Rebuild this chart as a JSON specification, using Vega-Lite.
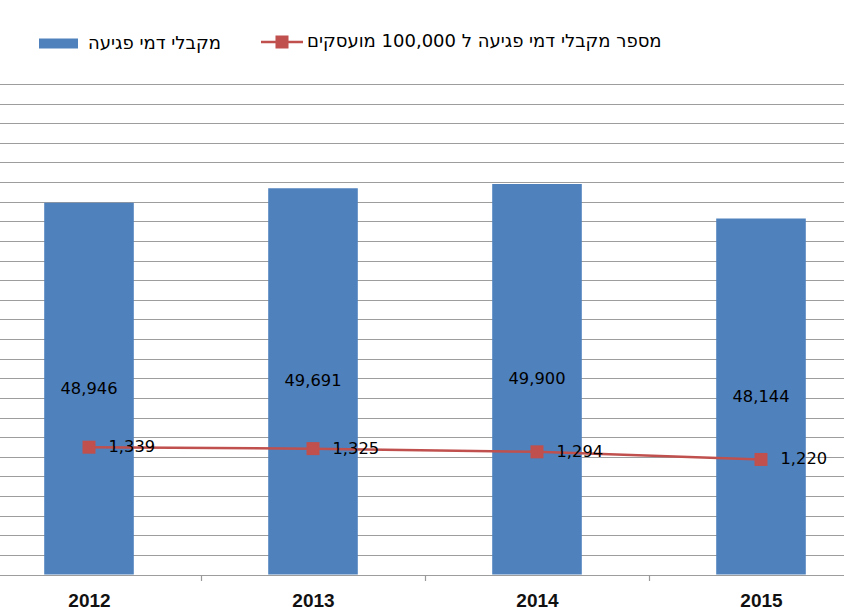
{
  "$schema": "https://vega.github.io/schema/vega-lite/v6.json",
  "width": 834,
  "height": 490.5,
  "autosize": {"type": "none"},
  "padding": {"left": 10, "top": 84, "right": 0, "bottom": 32.5},
  "background": "white",
  "config": {"view": {"stroke": null}},
  "data": {"values": [
    {"year": "2012", "recipients": 48946, "rate": 1339},
    {"year": "2013", "recipients": 49691, "rate": 1325},
    {"year": "2014", "recipients": 49900, "rate": 1294},
    {"year": "2015", "recipients": 48144, "rate": 1220}
  ]},
  "encoding": {
    "x": {
      "field": "year", "type": "nominal", "sort": null,
      "scale": {"range": [-33, 863], "paddingInner": 0, "paddingOuter": 0},
      "axis": {
        "title": null, "labelAngle": 0, "domain": false, "grid": false,
        "tickBand": "extent", "ticks": true, "tickSize": 6, "tickColor": "#9a9a9a", "tickWidth": 1.2,
        "labelFont": "Liberation Sans", "labelFontWeight": "bold", "labelFontSize": 19,
        "labelColor": "#111111", "labelPadding": 11
      }
    }
  },
  "layer": [
    {
      "mark": {"type": "bar", "color": "#4F81BD", "width": {"band": 0.4}},
      "encoding": {
        "y": {
          "field": "recipients", "type": "quantitative",
          "scale": {"domain": [30000, 55000], "zero": false, "nice": false},
          "axis": {
            "title": null, "labels": false, "ticks": false, "domain": false,
            "grid": true, "gridColor": "#9d9d9d", "gridWidth": 1.2,
            "values": [30000,31000,32000,33000,34000,35000,36000,37000,38000,39000,40000,41000,42000,43000,44000,45000,46000,47000,48000,49000,50000,51000,52000,53000,54000,55000]
          }
        },
        "y2": {"datum": 30000},
        "color": {
          "datum": "מקבלי דמי פגיעה",
          "scale": {"range": ["#4F81BD"]},
          "legend": {
            "orient": "none", "legendX": 29, "legendY": -60, "title": null, "padding": 0,
            "symbolType": "M-1,-0.256H1V0.256H-1Z", "symbolSize": 1521, "symbolStrokeWidth": 0,
            "labelOffset": 10, "labelFont": "DejaVu Sans", "labelFontSize": 18,
            "labelColor": "#000000", "labelLimit": 500
          }
        }
      }
    },
    {
      "mark": {"type": "text", "font": "DejaVu Sans", "fontSize": 16.3, "color": "#000000", "align": "center", "baseline": "middle"},
      "encoding": {
        "y": {"field": "recipients", "type": "quantitative", "scale": {"domain": [30000, 80000], "zero": false, "nice": false}, "axis": null},
        "text": {"field": "recipients", "type": "quantitative", "format": ","}
      }
    },
    {
      "layer": [
        {
          "mark": {"type": "line", "color": "#C0504D", "strokeWidth": 2.5},
          "encoding": {
            "y": {"field": "rate", "type": "quantitative", "scale": {"domain": [103, 4865], "zero": false, "nice": false}, "axis": null}
          }
        },
        {
          "mark": {"type": "square", "size": 169, "opacity": 1, "filled": true},
          "encoding": {
            "y": {"field": "rate", "type": "quantitative"},
            "color": {
              "datum": "מספר מקבלי דמי פגיעה ל 100,000  מועסקים",
              "scale": {"range": ["#C0504D"]},
              "legend": {
                "orient": "none", "legendX": 251, "legendY": -63, "title": null, "padding": 0,
                "symbolType": "M-1,-0.06H1V0.06H-1Z M-0.31,-0.31H0.31V0.31H-0.31Z", "symbolSize": 1764, "symbolStrokeWidth": 0,
                "symbolOpacity": 1,
                "labelOffset": 4, "labelFont": "DejaVu Sans", "labelFontSize": 18,
                "labelColor": "#000000", "labelLimit": 500
              }
            }
          }
        },
        {
          "mark": {"type": "text", "font": "DejaVu Sans", "fontSize": 16.3, "color": "#000000", "align": "left", "baseline": "middle", "dx": 19.5},
          "encoding": {
            "y": {"field": "rate", "type": "quantitative"},
            "text": {"field": "rate", "type": "quantitative", "format": ","}
          }
        }
      ]
    }
  ],
  "resolve": {"scale": {"y": "independent", "color": "independent"}}
}
